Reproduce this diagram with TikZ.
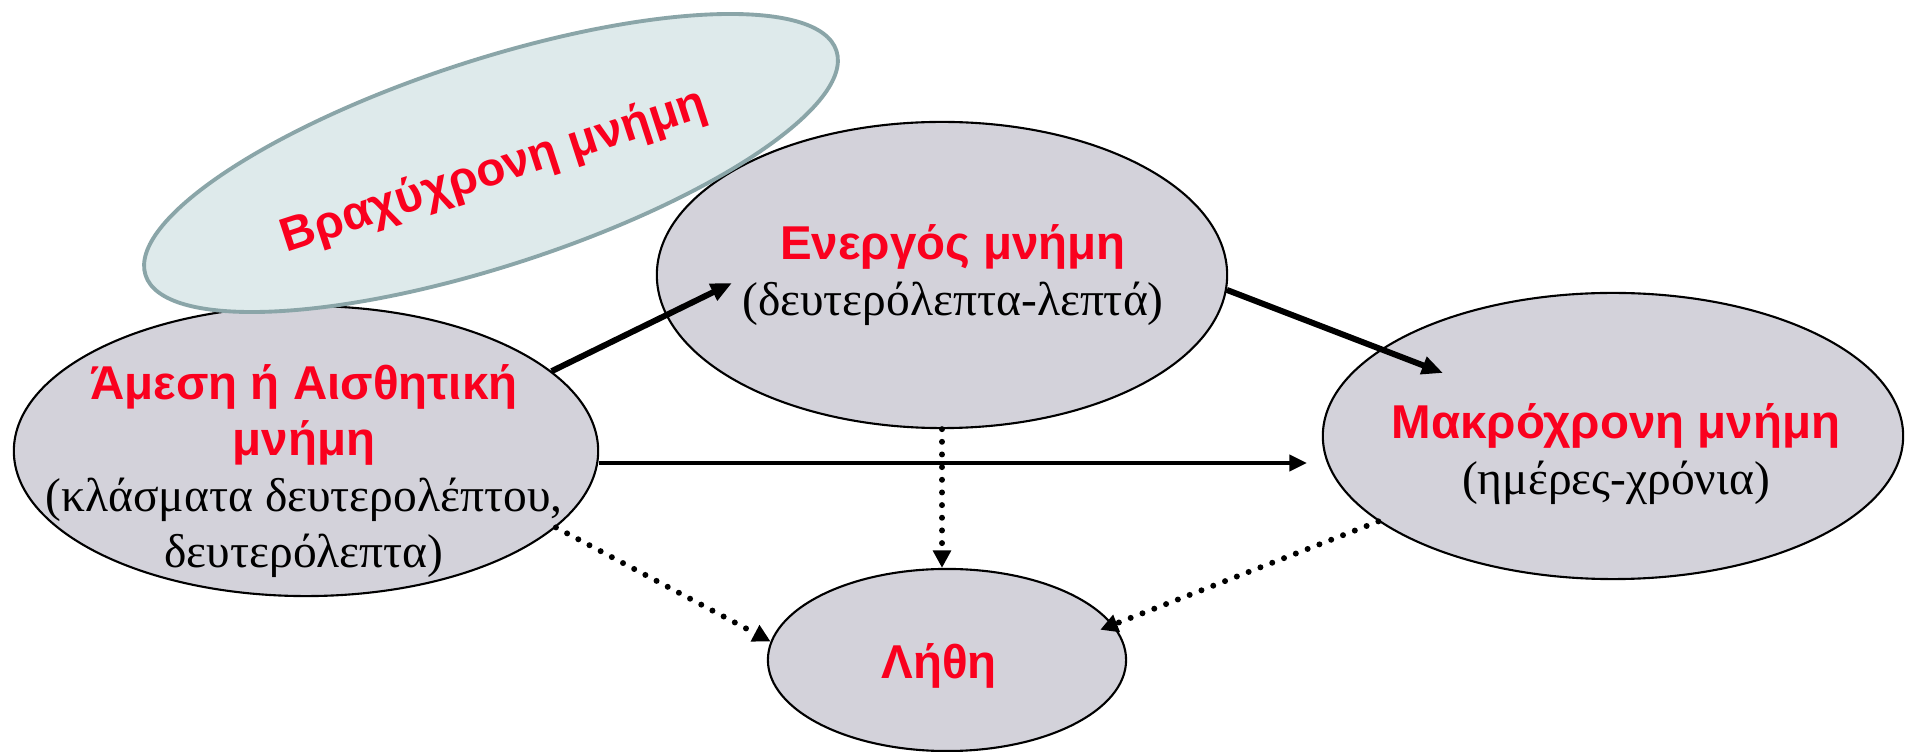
\documentclass[tikz,border=0pt]{standalone}
\usepackage{fontspec}
\setmainfont{Liberation Serif}
\setsansfont{Liberation Sans}
\usetikzlibrary{shapes.geometric,arrows.meta}
\definecolor{memred}{RGB}{250,0,30}
\definecolor{memgrey}{RGB}{211,210,218}
\definecolor{shortfill}{RGB}{222,234,235}
\definecolor{shortline}{RGB}{138,165,168}
\newcommand{\memtitle}[1]{{\sffamily\bfseries\color{memred}#1}}
\begin{document}
\begin{tikzpicture}[x=0.01cm, y=-0.01cm,
    mem/.style={ellipse, draw, fill=memgrey, line width=0.6pt},
    sub/.style={font=\fontsize{13.5}{16}\selectfont, align=center, inner sep=0pt},
    solidarrow/.style={-{Triangle[length=6pt,width=5pt]}, line width=1.7pt},
    plainarrow/.style={-{Triangle[length=5pt,width=4.5pt]}, line width=1.3pt},
    dotarrow/.style={-{Triangle[length=5pt,width=5pt]}, line width=1.7pt, line cap=round, dash pattern=on 0pt off 3.6pt}]
  \useasboundingbox (0,0) rectangle (1905,752);
  \node[mem, minimum width=5.84cm, minimum height=2.90cm] (amesi) at (306,451) {};
  \node[mem, minimum width=5.70cm, minimum height=3.06cm] (energos) at (942,275) {};
  \node[mem, minimum width=5.80cm, minimum height=2.86cm] (makro) at (1613,436) {};
  \node[mem, minimum width=3.58cm, minimum height=1.82cm] (lithi) at (947,660) {};
  \node[ellipse, draw=shortline, fill=shortfill, line width=1.1pt, rotate=18,
    minimum width=7.26cm, minimum height=2.06cm] (vraxy) at (491,163) {};
  \node[sub] (amesi text) at (304,471) {\memtitle{Άμεση ή Αισθητική}\\\memtitle{μνήμη}\\(κλάσματα δευτερολέπτου,\\δευτερόλεπτα)};
  \node[sub] (energos text) at (953,275) {\memtitle{Ενεργός μνήμη}\\(δευτερόλεπτα-λεπτά)};
  \node[sub] (makro text) at (1616,454) {\memtitle{Μακρόχρονη μνήμη}\\(ημέρες-χρόνια)};
  \node[sub] (lithi text) at (939,666) {\memtitle{Λήθη}};
  \node[sub, rotate=18] (vraxy text) at (494,172) {\memtitle{Βραχύχρονη μνήμη}};
  \coordinate (energos in) at (732,283);
  \coordinate (makro in) at (1443,373);
  \coordinate (makro left) at (1307,463);
  \draw[solidarrow] (amesi.18) -- (energos in);
  \draw[solidarrow] (energos.-3) -- (makro in);
  \draw[plainarrow] (amesi.east |- makro left) -- (makro left);
  \draw[dotarrow] (energos.south) -- (lithi.north -| energos.south);
  \draw[dotarrow] (amesi.-17) -- (lithi.174);
  \draw[dotarrow, shorten >=-4pt] (makro.200) -- (lithi.12);
\end{tikzpicture}
\end{document}
